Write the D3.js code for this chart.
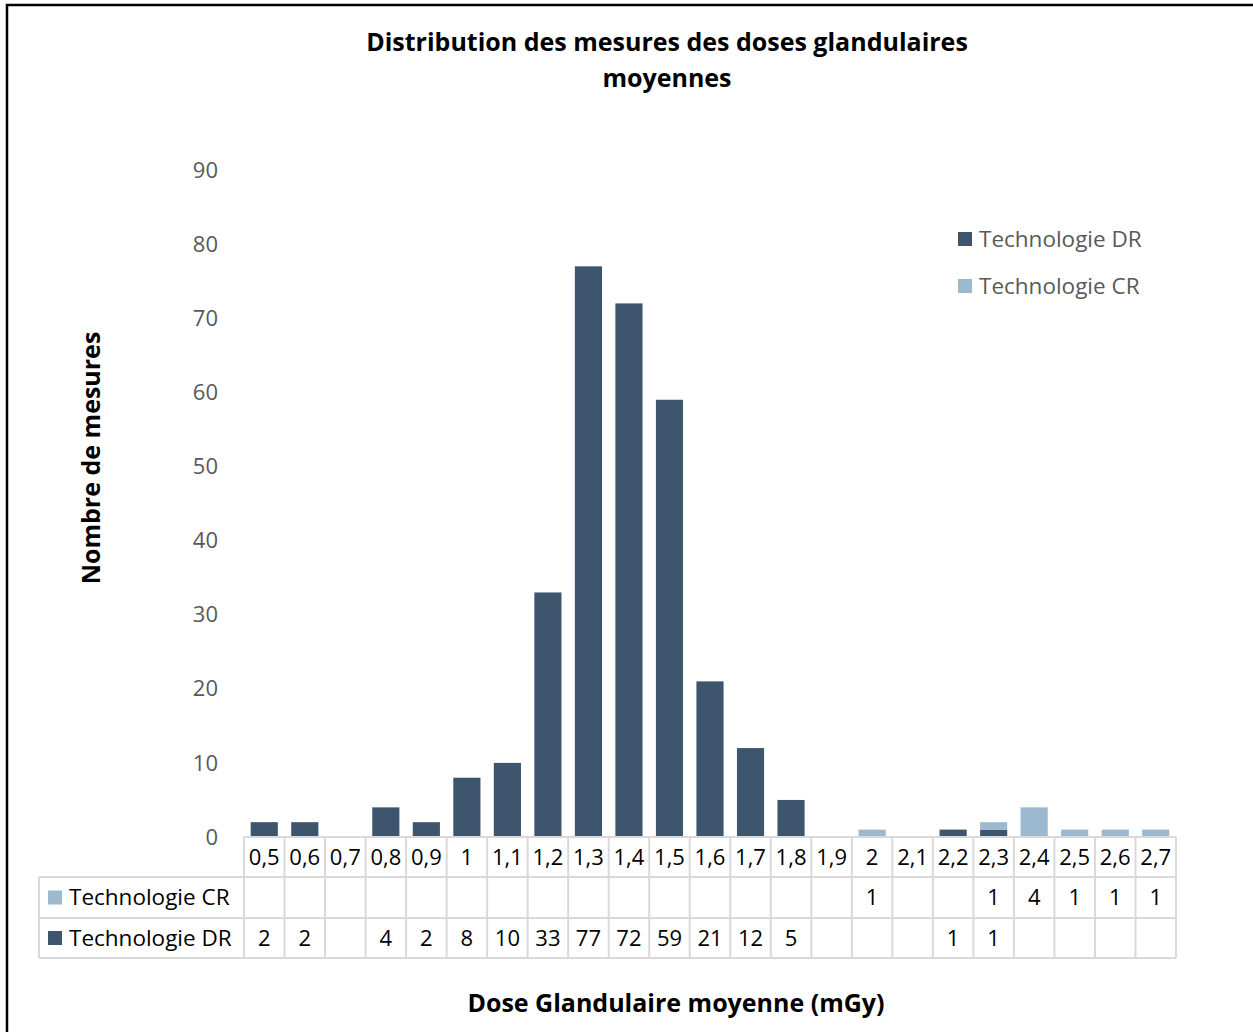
<!DOCTYPE html>
<html lang="fr">
<head>
<meta charset="utf-8">
<title>Distribution des mesures des doses glandulaires moyennes</title>
<script src="https://cdn.jsdelivr.net/npm/d3@7"></script>
<style>
body{margin:0;background:#fff;}
svg{display:block;font-family:"Open Sans","Noto Sans",sans-serif;}
</style>
</head>
<body>
<div id="chart"></div>
<script>
var width = 1253,
    height = 1032;

// data
var categories = ["0,5","0,6","0,7","0,8","0,9","1","1,1","1,2","1,3","1,4","1,5","1,6","1,7","1,8","1,9","2","2,1","2,2","2,3","2,4","2,5","2,6","2,7"];
var valuesDR = [2,2,null,4,2,8,10,33,77,72,59,21,12,5,null,null,null,1,1,null,null,null,null];
var valuesCR = [null,null,null,null,null,null,null,null,null,null,null,null,null,null,null,1,null,null,1,4,1,1,1];
var yTicks = [0,10,20,30,40,50,60,70,80,90];

var colDR = "#3d566e",
    colCR = "#9db9d0",
    grid = "#d9d9d9";

var svg = d3.select("#chart").append("svg")
    .attr("width", width)
    .attr("height", height);

// frame (only left and top edges visible)
svg.append("rect")
    .attr("x", 7).attr("y", 5)
    .attr("width", 1400).attr("height", 1200)
    .attr("fill", "none").attr("stroke", "#000").attr("stroke-width", 2.5);

var x = d3.scaleBand().domain(categories).range([244, 1176]).padding(0);
var y = d3.scaleLinear().domain([0, 90]).range([837, 170]);
var barW = x.bandwidth() * 0.67;

// title
svg.append("text").attr("x", 667).attr("y", 51).attr("text-anchor", "middle")
  .attr("font-size", 25).attr("font-weight", "bold").attr("fill", "#000")
  .text("Distribution des mesures des doses glandulaires");
svg.append("text").attr("x", 667).attr("y", 87).attr("text-anchor", "middle")
  .attr("font-size", 25).attr("font-weight", "bold").attr("fill", "#000")
  .text("moyennes");

// y axis labels
svg.selectAll(".ytick").data(yTicks).enter().append("text")
  .attr("class", "ytick")
  .attr("x", 218).attr("y", function(d){ return y(d); })
  .attr("dy", "0.35em").attr("text-anchor", "end")
  .attr("font-size", 22).attr("fill", "#595959")
  .text(function(d){ return d; });

// y title
svg.append("text")
  .attr("transform", "translate(100,458) rotate(-90)")
  .attr("text-anchor", "middle").attr("font-size", 25).attr("font-weight", "bold")
  .attr("fill", "#000").text("Nombre de mesures");

// stacked bars: DR at bottom, CR on top
var stacked = categories.map(function(c, i){
  var dr = valuesDR[i] || 0, cr = valuesCR[i] || 0;
  return {cat: c, dr: dr, cr: cr};
});

svg.selectAll(".bdr").data(stacked.filter(function(d){ return d.dr > 0; }))
  .enter().append("rect").attr("class", "bdr")
  .attr("x", function(d){ return x(d.cat) + (x.bandwidth() - barW) / 2; })
  .attr("y", function(d){ return y(d.dr); })
  .attr("width", barW)
  .attr("height", function(d){ return y(0) - y(d.dr); })
  .attr("fill", colDR);

svg.selectAll(".bcr").data(stacked.filter(function(d){ return d.cr > 0; }))
  .enter().append("rect").attr("class", "bcr")
  .attr("x", function(d){ return x(d.cat) + (x.bandwidth() - barW) / 2; })
  .attr("y", function(d){ return y(d.dr + d.cr); })
  .attr("width", barW)
  .attr("height", function(d){ return y(d.dr) - y(d.dr + d.cr); })
  .attr("fill", colCR);

// data table
var rowTop = [837, 877, 918, 958];
var tbl = svg.append("g").attr("stroke", grid).attr("stroke-width", 2);
tbl.append("line").attr("x1", 244).attr("x2", 1176).attr("y1", rowTop[0]).attr("y2", rowTop[0]);
[1, 2, 3].forEach(function(r){
  tbl.append("line").attr("x1", 39).attr("x2", 1176).attr("y1", rowTop[r]).attr("y2", rowTop[r]);
});
tbl.append("line").attr("x1", 39).attr("x2", 39).attr("y1", rowTop[1]).attr("y2", rowTop[3]);
tbl.selectAll(".vl").data(categories.concat(["end"])).enter().append("line")
  .attr("class", "vl")
  .attr("x1", function(d, i){ return 244 + i * x.step(); })
  .attr("x2", function(d, i){ return 244 + i * x.step(); })
  .attr("y1", rowTop[0]).attr("y2", rowTop[3]);

// category labels
svg.selectAll(".cat").data(categories).enter().append("text")
  .attr("class", "cat")
  .attr("x", function(d){ return x(d) + x.bandwidth() / 2; })
  .attr("y", (rowTop[0] + rowTop[1]) / 2).attr("dy", "0.35em")
  .attr("text-anchor", "middle").attr("font-size", 22).attr("fill", "#000")
  .text(function(d){ return d; });

var rows = [
  {name: "Technologie CR", vals: valuesCR, col: colCR, top: rowTop[1], bot: rowTop[2]},
  {name: "Technologie DR", vals: valuesDR, col: colDR, top: rowTop[2], bot: rowTop[3]}
];
rows.forEach(function(r){
  var cy = (r.top + r.bot) / 2;
  svg.append("rect").attr("x", 48).attr("y", cy - 7).attr("width", 14).attr("height", 14).attr("fill", r.col);
  svg.append("text").attr("x", 69).attr("y", cy).attr("dy", "0.35em")
    .attr("font-size", 22.5).attr("fill", "#000").text(r.name);
  svg.selectAll(null).data(categories.map(function(c, i){ return {cat: c, v: r.vals[i]}; })
      .filter(function(d){ return d.v != null; }))
    .enter().append("text")
    .attr("x", function(d){ return x(d.cat) + x.bandwidth() / 2; })
    .attr("y", cy).attr("dy", "0.35em")
    .attr("text-anchor", "middle").attr("font-size", 22).attr("fill", "#000")
    .text(function(d){ return d.v; });
});

// x title
svg.append("text").attr("x", 676).attr("y", 1012).attr("text-anchor", "middle")
  .attr("font-size", 25).attr("font-weight", "bold").attr("fill", "#000")
  .text("Dose Glandulaire moyenne (mGy)");

// legend
var legend = [{name: "Technologie DR", col: colDR}, {name: "Technologie CR", col: colCR}];
var lg = svg.selectAll(".lg").data(legend).enter().append("g")
  .attr("class", "lg")
  .attr("transform", function(d, i){ return "translate(958," + (239 + i * 47) + ")"; });
lg.append("rect").attr("x", 0).attr("y", -7).attr("width", 14).attr("height", 14)
  .attr("fill", function(d){ return d.col; });
lg.append("text").attr("x", 21).attr("dy", "0.35em").attr("font-size", 22.5)
  .attr("fill", "#595959").text(function(d){ return d.name; });
</script>
</body>
</html>
